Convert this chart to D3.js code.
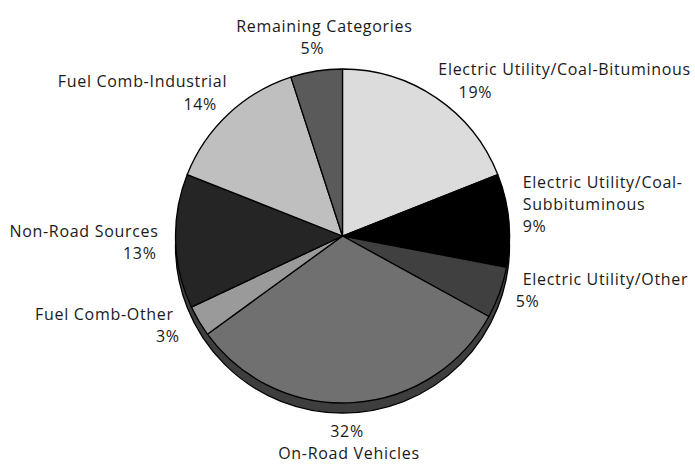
<!DOCTYPE html>
<html>
<head>
<meta charset="utf-8">
<script src="https://cdn.jsdelivr.net/npm/d3@7"></script>
<style>
  html, body { margin: 0; padding: 0; background: #ffffff; }
  svg { display: block; }
  text { font-family: "Open Sans", Lato, sans-serif; font-size: 16px; letter-spacing: 0.7px; fill: #1a1a1a; }
</style>
</head>
<body>
<svg id="chart" width="695" height="464"></svg>
<script>
// ---- data ----
const categories = [
  "Electric Utility/Coal-Bituminous",
  "Electric Utility/Coal-Subbituminous",
  "Electric Utility/Other",
  "On-Road Vehicles",
  "Fuel Comb-Other",
  "Non-Road Sources",
  "Fuel Comb-Industrial",
  "Remaining Categories"
];
const values = [19, 9, 5, 32, 3, 13, 14, 5];
const sliceColors = ["#dcdcdc", "#000000", "#404040", "#707070", "#9a9a9a", "#252525", "#bfbfbf", "#5a5a5a"];

// label lines: text lines per category ("%" = the value), with nudges from the slice's outer mid point
const labelLayout = [
  [{t: "Electric Utility/Coal-Bituminous", a: "start", dx: 2, dy: -23}, {t: "%", a: "middle", dx: 39, dy: 0}],
  [{t: "Electric Utility/Coal-", a: "start", dx: 14, dy: -32}, {t: "Subbituminous", a: "start", dx: 14, dy: -10}, {t: "%", a: "start", dx: 14, dy: 12}],
  [{t: "Electric Utility/Other", a: "start", dx: 23, dy: -8}, {t: "%", a: "start", dx: 16, dy: 14}],
  [{t: "%", a: "middle", dx: -6, dy: 34}, {t: "On-Road Vehicles", a: "middle", dx: -4, dy: 56}],
  [{t: "Fuel Comb-Other", a: "end", dx: -25, dy: -1}, {t: "%", a: "end", dx: -19, dy: 21}],
  [{t: "Non-Road Sources", a: "end", dx: -17, dy: -4}, {t: "%", a: "end", dx: -19, dy: 18}],
  [{t: "Fuel Comb-Industrial", a: "end", dx: -1, dy: -27}, {t: "%", a: "middle", dx: -28, dy: -4}],
  [{t: "Remaining Categories", a: "middle", dx: 8, dy: -39}, {t: "%", a: "middle", dx: -4, dy: -17}]
];

// ---- layout ----
const cx = 342.5, cy = 236, r = 167, depth = 10;
const svg = d3.select("#chart");
const g = svg.append("g").attr("transform", `translate(${cx},${cy})`);

const pie = d3.pie().sort(null).value(d => d)(values);
const arc = d3.arc().innerRadius(0).outerRadius(r);

// 3D rim: a shifted copy of the disc beneath the top face
g.append("circle")
  .attr("cx", 0).attr("cy", depth).attr("r", r)
  .attr("fill", "#3e3e3e").attr("stroke", "#000").attr("stroke-width", 1.3);

g.selectAll("path.slice").data(pie).join("path")
  .attr("class", "slice")
  .attr("d", arc)
  .attr("fill", (d, i) => sliceColors[i])
  .attr("stroke", "#000")
  .attr("stroke-width", 1.3)
  .attr("stroke-linejoin", "round");

// labels
pie.forEach((d, i) => {
  const mid = (d.startAngle + d.endAngle) / 2;
  const ax = Math.sin(mid) * r, ay = -Math.cos(mid) * r;
  labelLayout[i].forEach(line => {
    g.append("text")
      .attr("x", ax + line.dx)
      .attr("y", ay + line.dy)
      .attr("text-anchor", line.a)
      .text(line.t === "%" ? values[i] + "%" : line.t);
  });
});
</script>
</body>
</html>
